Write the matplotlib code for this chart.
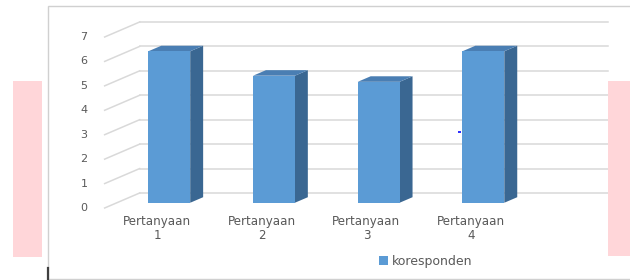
import numpy as np
import matplotlib
matplotlib.use("Agg")
import matplotlib.pyplot as plt
from matplotlib.patches import Polygon, Rectangle

# data
categories = ["Pertanyaan\n1", "Pertanyaan\n2", "Pertanyaan\n3", "Pertanyaan\n4"]
values = [6.2, 5.2, 4.95, 6.2]
yticks = [0, 1, 2, 3, 4, 5, 6, 7]
series_name = "koresponden"

W, H = 630, 280
# pixel mapping of the front plane (image coords, y from top)
PX_CAT, X0 = 104.7, 157.0
PX_UNIT, Y0 = 24.43, 208.0
# oblique depth of the whole floor, in data units
DX, DY = 35 / PX_CAT, 15 / PX_UNIT
F0, F1 = 0.35, 0.72      # bar front / back as fraction of depth
BAR_W = 0.40
X_RIGHT = 3.97

front_c = "#5B9BD5"
side_c = "#3A6792"
top_c = "#4A7EB3"
grid_c = "#D9D9D9"
text_c = "#595959"

fig = plt.figure(figsize=(W / 100, H / 100), dpi=100)
ax = fig.add_axes([0, 0, 1, 1])
ax.set_xlim(-X0 / PX_CAT, (W - X0) / PX_CAT)
ax.set_ylim((Y0 - H) / PX_UNIT, Y0 / PX_UNIT)
ax.axis("off")

# chart frame + page bits
fig.add_artist(Rectangle((48 / W, 1 / H), 1.0, (H - 6.7) / H, transform=fig.transFigure,
                         fill=False, ec="#D0D0D0", lw=1.0))
fig.add_artist(Rectangle((13 / W, (H - 257) / H), 29 / W, 176 / H, transform=fig.transFigure,
                         fc="#FFD6D9", ec="none"))
fig.add_artist(plt.Line2D([48 / W, 48 / W], [0, 12 / H], transform=fig.transFigure,
                          color="#404040", lw=1.6))

# back wall and side wall gridlines
for v in yticks:
    ax.plot([-0.5 + DX, X_RIGHT + DX], [v + DY, v + DY], color=grid_c, lw=1.1, zorder=1)
    ax.plot([-0.5, -0.5 + DX], [v, v + DY], color=grid_c, lw=1.1, zorder=1)
    ax.text(-0.5 - 17 / PX_CAT, v, str(v), ha="right", va="center",
            fontsize=8, color=text_c)

# 3d bars
x = np.arange(len(values))
xf = x + F0 * DX
bottom = F0 * DY
ddx, ddy = (F1 - F0) * DX, (F1 - F0) * DY
bars = ax.bar(xf, values, width=BAR_W, bottom=bottom, color=front_c,
              label=series_name, zorder=4)
for xi, v in zip(xf, values):
    xl, xr = xi - BAR_W / 2, xi + BAR_W / 2
    t = bottom + v
    ax.add_patch(Polygon([(xr, bottom), (xr + ddx, bottom + ddy), (xr + ddx, t + ddy), (xr, t)],
                         closed=True, fc=side_c, ec="none", zorder=3))
    ax.add_patch(Polygon([(xl, t), (xr, t), (xr + ddx, t + ddy), (xl + ddx, t + ddy)],
                         closed=True, fc=top_c, ec="none", zorder=3))

for xi, lab in zip(x, categories):
    ax.text(xi, -0.3, lab, ha="center", va="top", fontsize=8.6, color=text_c,
            linespacing=1.05)

ax.legend(handles=[bars], loc="center left", bbox_to_anchor=(379 / W, 1 - 261 / H),
          frameon=False, fontsize=9, labelcolor=text_c, handlelength=0.7,
          handleheight=0.7, handletextpad=0.35, borderpad=0, borderaxespad=0)

# right pink box and the small blue mark
fig.add_artist(Rectangle((608 / W, (H - 256) / H), 30 / W, 175 / H, transform=fig.transFigure,
                         fc="#FFD6D9", ec="none", zorder=10))
fig.add_artist(Rectangle((458 / W, (H - 133) / H), 3 / W, 2 / H, transform=fig.transFigure,
                         fc="#3030FF", ec="none", zorder=10))

fig.savefig("out.png", dpi=100)
